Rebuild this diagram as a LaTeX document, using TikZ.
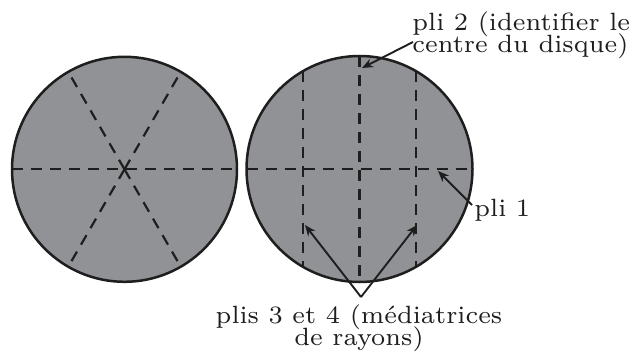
\documentclass[tikz,border=0pt]{standalone}
\usepackage{fontspec}
\setmainfont{lmroman7-regular.otf}
\usetikzlibrary{arrows.meta}
\definecolor{diskgray}{RGB}{145,146,150}
\definecolor{ink}{RGB}{30,30,30}
\begin{document}
\begin{tikzpicture}[x=0.5pt,y=-0.5pt,
  disk/.style={fill=diskgray,draw=ink,line width=1.25pt},
  fold/.style={draw=ink,line width=1.1pt,dash pattern=on 5.5pt off 4pt},
  pointer/.style={draw=ink,line width=0.95pt,-{Stealth[length=5.5pt,width=4.5pt]}},
  lbl/.style={font={\fontsize{12.5}{11.2}\selectfont\lineskiplimit=-10pt},inner sep=0pt,text=ink}]
\useasboundingbox (0,0) rectangle (636,353);
% left disk
\coordinate (L) at (124.5,169.3);
\path[disk] (L) circle[radius=56.25pt];
\draw[fold] ([shift={(180:112.5)}]L) -- ([shift={(0:112.5)}]L);
\draw[fold] (L) -- ([shift={(60:112.5)}]L);
\draw[fold] (L) -- ([shift={(120:112.5)}]L);
\draw[fold] (L) -- ([shift={(240:112.5)}]L);
\draw[fold] (L) -- ([shift={(300:112.5)}]L);
% right disk
\coordinate (R) at (359.5,169);
\path[disk] (R) circle[radius=56.5pt];
\draw[fold] ([shift={(-113,0)}]R) -- ([shift={(113,0)}]R);
\draw[fold] ([shift={(-56.5,-97.9)}]R) -- ([shift={(-56.5,97.9)}]R);
\draw[fold] ([shift={(0,-113)}]R) -- ([shift={(0,113)}]R);
\draw[fold] ([shift={(56.5,-97.9)}]R) -- ([shift={(56.5,97.9)}]R);
% labels
\node[lbl,anchor=north west,align=left] (t2) at (412,11) {pli 2 (identifier le\\centre du disque)};
\node[lbl,anchor=base west] (t1) at (474,216) {pli 1};
\node[lbl,anchor=north,align=center] (t3) at (359,304) {plis 3 et 4 (médiatrices\\de rayons)};
% arrow ends
\coordinate (p2tail) at (413,42);
\coordinate (p2tip) at (362,68);
\coordinate (p1tail) at (472,205);
\coordinate (p1tip) at (438,171);
\coordinate (apex) at (361,297);
\coordinate (p3tip) at (305,225);
\coordinate (p4tip) at (417,225);
\draw[pointer] (p2tail) -- (p2tip);
\draw[pointer] (p1tail) -- (p1tip);
\draw[pointer] (apex) -- (p3tip);
\draw[pointer] (apex) -- (p4tip);
\end{tikzpicture}
\end{document}
